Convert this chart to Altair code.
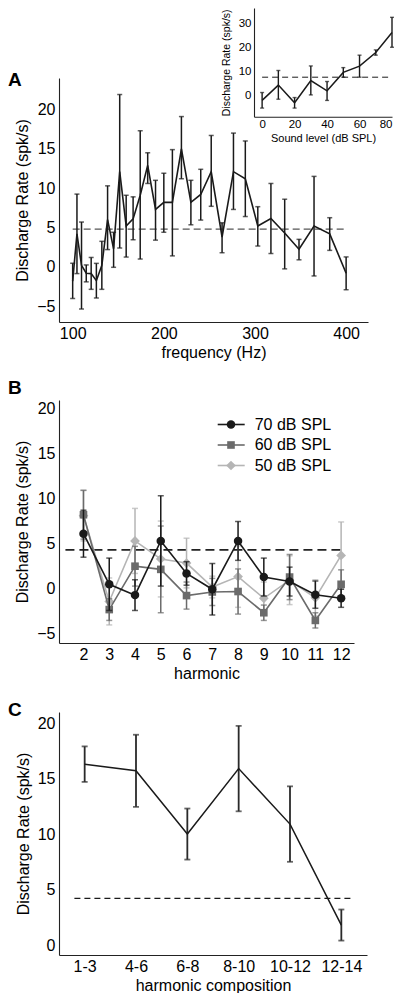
import json
import altair as alt
import pandas as pd

FONT = "Liberation Sans"
INK = "#1a1a1a"

# ---------------- Panel A: discharge rate vs fundamental frequency ----------------
freq_hz = [100, 104.7, 109.7, 114.9, 120.3, 126, 132, 138.3, 144.9, 151.6, 158.7,
           166.3, 174.1, 182.3, 190.9, 200, 209.4, 219.3, 229.7, 240.5, 252,
           263.9, 276.4, 289.4, 303.1, 317.5, 332.6, 348.3, 364.8, 382, 400]
rate_a = [-1.8, 4.2, 0.2, -0.8, -0.85, -1.75, 0.2, 6.0, 2.3, 12.1, 5.2,
          6.1, 9.1, 12.9, 7.3, 8.2, 8.2, 15.0, 8.2, 9.2, 12.1,
          3.8, 12.1, 11.2, 5.2, 6.15, 4.3, 2.25, 5.2, 4.2, -0.8]
low_a = [-4.0, -0.85, -5.35, -1.9, -2.85, -3.95, -2.85, 2.2, -0.05, 2.4, 1.25,
         3.45, 1.0, 10.6, 3.4, 4.4, 1.4, 11.2, 5.35, 5.95, 7.7,
         1.8, 7.3, 6.4, 2.65, 1.7, -0.25, 0.9, -1.15, 2.1, -2.9]
high_a = [0.45, 9.25, 5.7, 0.25, 1.2, 0.45, 3.25, 10.3, 4.4, 21.9, 9.1,
          8.9, 17.3, 14.5, 11.0, 11.9, 14.9, 19.1, 11.0, 12.4, 16.7,
          5.6, 17.0, 16.0, 7.65, 10.6, 8.6, 3.5, 11.5, 6.25, 1.27]
spont_a = 4.8
spont_a_span = [100, 400]

# ---------------- Panel A inset: rate vs sound level ----------------
level_db = [0, 10, 20, 30, 40, 50, 60, 70, 80]
rate_in = [-2.2, 4.2, -3.2, 6.1, 1.8, 9.5, 12.1, 17.8, 26.2]
low_in = [-5.4, -1.7, -5.4, 0.1, -2.2, 7.5, 7.5, 16.7, 20.0]
high_in = [1.1, 10.3, -1.0, 12.2, 5.7, 11.5, 16.7, 18.9, 32.5]
spont_in = 7.5
spont_in_span = [0, 80]

# ---------------- Panel B: single harmonics at three levels ----------------
harmonics = [2, 3, 4, 5, 6, 7, 8, 9, 10, 11, 12]
levels = ["70 dB SPL", "60 dB SPL", "50 dB SPL"]
rate_b = {
    "70 dB SPL": [6.1, 0.5, -0.7, 5.3, 1.7, -0.05, 5.3, 1.3, 0.8, -0.65, -1.05],
    "60 dB SPL": [8.2, -2.3, 2.5, 2.15, -0.75, -0.35, -0.3, -2.65, 1.3, -3.5, 0.5],
    "50 dB SPL": [8.1, -1.4, 5.3, 3.3, 2.85, 0.2, 1.35, -1.05, 0.95, -1.0, 3.7],
}
err_b = {
    "70 dB SPL": [2.6, 2.9, 1.7, 5.0, 1.3, 2.85, 2.15, 2.1, 1.6, 1.5, 1.0],
    "60 dB SPL": [2.7, 1.2, 2.2, 4.8, 1.5, 1.5, 2.5, 0.85, 2.5, 0.85, 1.6],
    "50 dB SPL": [2.8, 2.6, 3.6, 4.2, 2.75, 1.2, 3.4, 1.8, 2.7, 2.0, 3.7],
}
spont_b = 4.3
spont_b_span = [1.3, 12.1]

# ---------------- Panel C: harmonic complexes ----------------
compositions = ["1-3", "4-6", "6-8", "8-10", "10-12", "12-14"]
rate_c = [16.3, 15.7, 10.0, 15.9, 10.9, 1.8]
err_c = [1.6, 3.25, 2.3, 3.85, 3.4, 1.4]
spont_c = 4.2
spont_c_span = [-0.2, 5.25]

# ---------------- styles ----------------
level_color = {"70 dB SPL": INK, "60 dB SPL": "#6b6b6b", "50 dB SPL": "#b5b5b5"}
level_shape = {"70 dB SPL": "circle", "60 dB SPL": "square", "50 dB SPL": "diamond"}
level_size = {"70 dB SPL": 72, "60 dB SPL": 58, "50 dB SPL": 95}
legend_row_y = [24.5, 45, 65.5]


def err_layers(df, xs, ys, xa, ya, color, width=1.5, cap=6):
    rule = alt.Chart(df).mark_rule(color=color, strokeWidth=width).encode(
        x=alt.X("x:Q", scale=xs, axis=xa),
        y=alt.Y("lo:Q", scale=ys, axis=ya),
        y2="hi:Q",
    )
    caps_df = pd.concat(
        [df[["x", "lo"]].rename(columns={"lo": "cap"}),
         df[["x", "hi"]].rename(columns={"hi": "cap"})],
        ignore_index=True,
    )
    caps = alt.Chart(caps_df).mark_tick(
        orient="horizontal", size=cap, thickness=width, color=color
    ).encode(
        x=alt.X("x:Q", scale=xs, axis=xa),
        y=alt.Y("cap:Q", scale=ys, axis=ya),
    )
    return [rule, caps]


def dashed(span, yval, xs, ys, xa, ya, color, width, dash):
    df = pd.DataFrame({"x": span, "y": [yval, yval]})
    return alt.Chart(df).mark_line(color=color, strokeWidth=width, strokeDash=dash).encode(
        x=alt.X("x:Q", scale=xs, axis=xa),
        y=alt.Y("y:Q", scale=ys, axis=ya),
    )


def letter(txt, dx, dy):
    return alt.Chart(pd.DataFrame({"t": [txt]})).mark_text(
        font=FONT, fontSize=19, fontWeight="bold", align="left", baseline="middle", color="black"
    ).encode(text="t:N", x=alt.value(dx), y=alt.value(dy))


# ---------------- Panel A ----------------
WA, HA = 309, 244
xs_a = alt.Scale(domain=[85, 424], nice=False, zero=False)
ys_a = alt.Scale(domain=[-7, 24], nice=False, zero=False)
xa_a = alt.Axis(values=[100, 200, 300, 400], title="frequency (Hz)", labelPadding=3, titlePadding=3)
ya_a = alt.Axis(values=[-5, 0, 5, 10, 15, 20], title="Discharge Rate (spk/s)", labelPadding=4, titlePadding=6)

df_a = pd.DataFrame({"x": freq_hz, "y": rate_a, "lo": low_a, "hi": high_a})
main_a = alt.layer(
    dashed(spont_a_span, spont_a, xs_a, ys_a, xa_a, ya_a, "#555555", 1.2, [7, 4]),
    *err_layers(df_a, xs_a, ys_a, xa_a, ya_a, INK, 1.5, 5),
    alt.Chart(df_a).mark_line(color=INK, strokeWidth=1.6).encode(
        x=alt.X("x:Q", scale=xs_a, axis=xa_a), y=alt.Y("y:Q", scale=ys_a, axis=ya_a)),
    letter("A", -51, 1.5),
)

xs_i = alt.Scale(domain=[-5, 80], range=[195, 333], nice=False, zero=False)
ys_i = alt.Scale(domain=[-9, 36.4], range=[38.7, -70], nice=False, zero=False)
xa_i = alt.Axis(values=[0, 20, 40, 60, 80], title="Sound level (dB SPL)", orient="bottom",
                offset=-(HA - 38.7), labelFontSize=11.5, titleFontSize=11, labelPadding=2, titlePadding=2)
ya_i = alt.Axis(values=[0, 10, 20, 30], title="Discharge Rate (spk/s)", orient="left",
                offset=-195, labelFontSize=11.5, titleFontSize=10.5, labelPadding=3, titlePadding=7)
df_i = pd.DataFrame({"x": level_db, "y": rate_in, "lo": low_in, "hi": high_in})
inset = alt.layer(
    dashed(spont_in_span, spont_in, xs_i, ys_i, xa_i, ya_i, INK, 1.0, [6, 4]),
    *err_layers(df_i, xs_i, ys_i, xa_i, ya_i, INK, 1.4, 4),
    alt.Chart(df_i).mark_line(color=INK, strokeWidth=1.5).encode(
        x=alt.X("x:Q", scale=xs_i, axis=xa_i), y=alt.Y("y:Q", scale=ys_i, axis=ya_i)),
)
panel_a = alt.layer(main_a, inset).resolve_scale(x="independent", y="independent").properties(
    width=WA, height=HA)

# ---------------- Panel B ----------------
WB, HB = 295, 243
xs_b = alt.Scale(domain=[1.05, 12.5], nice=False, zero=False)
ys_b = alt.Scale(domain=[-6, 20.9], nice=False, zero=False)
xa_b = alt.Axis(values=harmonics, title="harmonic", labelPadding=3, titlePadding=3)
ya_b = alt.Axis(values=[-5, 0, 5, 10, 15, 20], title="Discharge Rate (spk/s)", labelPadding=4, titlePadding=6)

layers_b = [dashed(spont_b_span, spont_b, xs_b, ys_b, xa_b, ya_b, "#222222", 1.8, [9, 5])]
for lev in ["50 dB SPL", "60 dB SPL", "70 dB SPL"]:
    m = rate_b[lev]
    e = err_b[lev]
    dfl = pd.DataFrame({"x": harmonics, "y": m,
                        "lo": [a - b for a, b in zip(m, e)],
                        "hi": [a + b for a, b in zip(m, e)]})
    col = level_color[lev]
    layers_b += err_layers(dfl, xs_b, ys_b, xa_b, ya_b, col, 1.5, 6)
    layers_b.append(alt.Chart(dfl).mark_line(color=col, strokeWidth=1.6).encode(
        x=alt.X("x:Q", scale=xs_b, axis=xa_b), y=alt.Y("y:Q", scale=ys_b, axis=ya_b)))
    layers_b.append(alt.Chart(dfl).mark_point(
        shape=level_shape[lev], filled=True, size=level_size[lev], color=col, opacity=1).encode(
        x=alt.X("x:Q", scale=xs_b, axis=xa_b), y=alt.Y("y:Q", scale=ys_b, axis=ya_b)))

# legend (real text, fixed layout positions)
for lev, ry in zip(levels, legend_row_y):
    ldf = pd.DataFrame({"label": [lev]})
    col = level_color[lev]
    layers_b.append(alt.Chart(ldf).mark_rule(color=col, strokeWidth=1.6).encode(
        x=alt.value(158.7), x2=alt.value(185.7), y=alt.value(ry)))
    layers_b.append(alt.Chart(ldf).mark_point(
        shape=level_shape[lev], filled=True, size=level_size[lev], color=col, opacity=1).encode(
        x=alt.value(172), y=alt.value(ry)))
    layers_b.append(alt.Chart(ldf).mark_text(
        font=FONT, fontSize=16, align="left", baseline="middle", color="black").encode(
        text="label:N", x=alt.value(195.7), y=alt.value(ry)))
layers_b.append(letter("B", -51, -12))
panel_b = alt.layer(*layers_b).properties(width=WB, height=HB)

# ---------------- Panel C ----------------
WC, HC = 308, 243
xs_c = alt.Scale(domain=[-0.5, 5.5], nice=False, zero=False)
ys_c = alt.Scale(domain=[-0.9, 21], nice=False, zero=False)
label_expr = json.dumps(compositions) + "[datum.value]"
xa_c = alt.Axis(values=list(range(len(compositions))), labelExpr=label_expr,
                title="harmonic composition", labelPadding=3, titlePadding=3)
ya_c = alt.Axis(values=[0, 5, 10, 15, 20], title="Discharge Rate (spk/s)", labelPadding=4, titlePadding=6)
df_c = pd.DataFrame({"x": list(range(len(compositions))), "y": rate_c,
                     "lo": [a - b for a, b in zip(rate_c, err_c)],
                     "hi": [a + b for a, b in zip(rate_c, err_c)]})
panel_c = alt.layer(
    dashed(spont_c_span, spont_c, xs_c, ys_c, xa_c, ya_c, INK, 1.1, [6, 4]),
    *err_layers(df_c, xs_c, ys_c, xa_c, ya_c, "#2a2a2a", 1.8, 6),
    alt.Chart(df_c).mark_line(color=INK, strokeWidth=1.5).encode(
        x=alt.X("x:Q", scale=xs_c, axis=xa_c), y=alt.Y("y:Q", scale=ys_c, axis=ya_c)),
    letter("C", -51, -2.5),
).properties(width=WC, height=HC)

chart = alt.vconcat(panel_a, panel_b, panel_c, spacing=19).properties(
    padding={"left": 0, "top": 0, "right": 0, "bottom": 0}
).configure_view(stroke=None).configure_axis(
    labelFont=FONT, titleFont=FONT, labelFontSize=16, titleFontSize=16,
    labelColor="black", titleColor="black", titleFontWeight="normal",
    grid=False, ticks=False, domainColor="#222222", domainWidth=1.1,
)

chart.save("out.html", embed_options={"renderer": "svg", "actions": False})
